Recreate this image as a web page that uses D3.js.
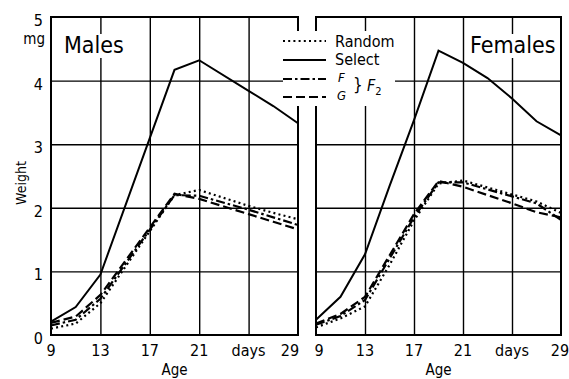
<!DOCTYPE html>
<html><head><meta charset="utf-8">
<script src="https://cdn.jsdelivr.net/npm/d3@7"></script>
<style>
html,body{margin:0;padding:0;background:#fff;}
svg text{font-family:"DejaVu Sans Condensed","DejaVu Sans",sans-serif;font-stretch:condensed;fill:#000;}
</style></head>
<body>
<svg id="c" width="569" height="379"></svg>
<script>
// ---- data ----
const maleAges   = [9, 11, 13, 19, 21, 25, 27, 29];
const maleSelect = [0.21, 0.44, 0.95, 4.17, 4.32, 3.84, 3.60, 3.33];
const maleRandom = [0.10, 0.18, 0.50, 2.20, 2.28, 2.03, 1.92, 1.82];
const maleF      = [0.15, 0.24, 0.57, 2.20, 2.19, 1.97, 1.85, 1.73];
const maleG      = [0.19, 0.29, 0.63, 2.22, 2.14, 1.90, 1.78, 1.66];

const femaleAges   = [9, 11, 13, 15, 17, 19, 21, 23, 25, 27, 29];
const femaleSelect = [0.24, 0.60, 1.27, 2.34, 3.38, 4.47, 4.28, 4.04, 3.72, 3.36, 3.14];
const femaleRandom = [0.12, 0.26, 0.45, 1.10, 1.80, 2.38, 2.43, 2.32, 2.21, 2.10, 1.92];
const femaleF      = [0.16, 0.30, 0.55, 1.20, 1.85, 2.40, 2.40, 2.29, 2.18, 2.07, 1.81];
const femaleG      = [0.18, 0.33, 0.60, 1.25, 1.90, 2.42, 2.33, 2.20, 2.07, 1.93, 1.85];

const xTicks = [9, 13, 17, 21, 25, 29];
const xTickLabels = ["9", "13", "17", "21", "days", "29"];
const yTicks = [0, 1, 2, 3, 4, 5];
const seriesNames = ["Random", "Select", "F", "G"];
const panelTitles = ["Males", "Females"];

// ---- styles ----
const dash = {Random: "2,3.2", Select: null, F: "9,3,2.5,3", G: "9,4"};

const svg = d3.select("#c");
const y = d3.scaleLinear().domain([0, 5]).range([335, 17]);
const xL = d3.scaleLinear().domain([9, 29]).range([51, 298]);
const xR = d3.scaleLinear().domain([9, 29]).range([316, 561]);

const panels = [
  {x: xL, ages: maleAges, data: {Random: maleRandom, Select: maleSelect, F: maleF, G: maleG}, title: panelTitles[0]},
  {x: xR, ages: femaleAges, data: {Random: femaleRandom, Select: femaleSelect, F: femaleF, G: femaleG}, title: panelTitles[1]}
];

panels.forEach((p, pi) => {
  const g = svg.append("g");
  const [x0, x1] = p.x.range();
  // vertical grid
  const xa = d3.axisBottom(p.x).tickValues(xTicks.slice(1, -1)).tickSize(-(y(0) - y(5))).tickFormat("");
  g.append("g").attr("transform", `translate(0,${y(0)})`).call(xa)
    .call(s => s.select(".domain").remove())
    .call(s => s.selectAll("line").attr("stroke", "#000").attr("stroke-width", 1.4));
  // horizontal grid
  const ya = d3.axisLeft(y).tickValues(yTicks.slice(1, -1)).tickSize(-(x1 - x0)).tickFormat("");
  g.append("g").attr("transform", `translate(${x0},0)`).call(ya)
    .call(s => s.select(".domain").remove())
    .call(s => s.selectAll("line").attr("stroke", "#000").attr("stroke-width", 1.4));
  // x labels
  xTicks.forEach((t, i) => {
    let dx = 0;
    if (pi === 0 && i === xTicks.length - 1) dx = -8;
    if (pi === 1 && i === 0) dx = 3;
    if (pi === 1 && i === xTicks.length - 1) dx = -1;
    g.append("text").attr("x", p.x(t) + dx).attr("y", 356)
      .attr("text-anchor", "middle").attr("font-size", 16).text(xTickLabels[i]);
  });
  g.append("text").attr("x", (x0 + x1) / 2).attr("y", 375)
    .attr("text-anchor", "middle").attr("font-size", 15).text("Age");
  // title with white background
  const tg = g.append("g");
  const tx = pi === 0 ? 64 : 470;
  const tt = tg.append("text").attr("x", tx).attr("y", 53).attr("font-size", 23).text(p.title);
  const bb = tt.node().getBBox();
  tg.insert("rect", "text").attr("x", bb.x - 2).attr("y", bb.y + 2).attr("width", bb.width + 4).attr("height", bb.height - 2).attr("fill", "#fff");
  // series
  seriesNames.forEach(n => {
    const vals = p.data[n];
    const line = d3.line().x((d, i) => p.x(p.ages[i])).y(d => y(d));
    g.append("path").datum(vals).attr("d", line).attr("fill", "none")
      .attr("stroke", "#000").attr("stroke-width", n === "Select" ? 2 : 2.2)
      .attr("stroke-dasharray", dash[n]);
  });
  // frame
  g.append("rect").attr("x", x0).attr("y", y(5)).attr("width", x1 - x0).attr("height", y(0) - y(5))
    .attr("fill", "none").attr("stroke", "#000").attr("stroke-width", 2);
});

// y labels (left panel only)
yTicks.forEach(t => {
  svg.append("text").attr("x", 43).attr("y", y(t) + 9).attr("text-anchor", "end")
    .attr("font-size", 16).text(t);
});
svg.append("text").attr("x", 45).attr("y", 44).attr("text-anchor", "end").attr("font-size", 15).text("mg");
svg.append("text").attr("transform", "translate(26,183) rotate(-90)").attr("text-anchor", "middle")
  .attr("font-size", 14).text("Weight");

// legend
const lg = svg.append("g");
lg.append("rect").attr("x", 283).attr("y", 31).attr("width", 112).attr("height", 75).attr("fill", "#fff");
const rowsY = [41, 60, 79, 97];
seriesNames.forEach((n, i) => {
  lg.append("line").attr("x1", 283).attr("x2", 326).attr("y1", rowsY[i]).attr("y2", rowsY[i])
    .attr("stroke", "#000").attr("stroke-width", 2).attr("stroke-dasharray", dash[n]);
});
lg.append("text").attr("x", 335).attr("y", 47).attr("font-size", 16).text(seriesNames[0]);
lg.append("text").attr("x", 335).attr("y", 65).attr("font-size", 16).text(seriesNames[1]);
lg.append("text").attr("x", 338).attr("y", 82).attr("font-size", 13).attr("font-style", "italic").text(seriesNames[2]);
lg.append("text").attr("x", 337).attr("y", 100).attr("font-size", 13).attr("font-style", "italic").text(seriesNames[3]);
lg.append("text").attr("x", 353).attr("y", 91).attr("font-size", 17).attr("font-weight", "300").text("}");
const f2 = lg.append("text").attr("x", 367).attr("y", 91).attr("font-size", 16).attr("font-style", "italic");
f2.append("tspan").text("F");
f2.append("tspan").attr("font-size", 11).attr("font-style", "normal").attr("dy", 4).text("2");
</script>
</body></html>
